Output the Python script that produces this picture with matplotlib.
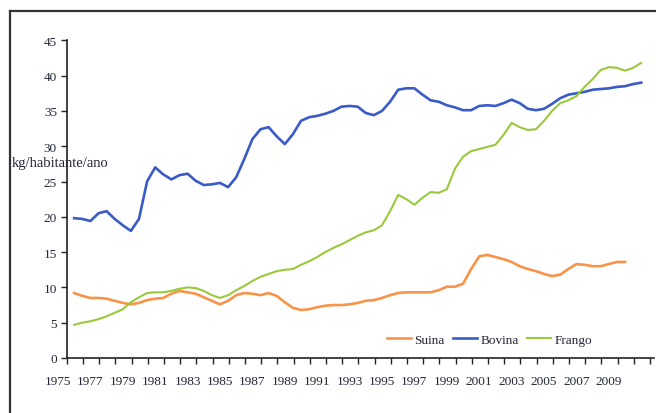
import matplotlib.pyplot as plt
import matplotlib.transforms as mtransforms
import numpy as np

# half-year readings
years_bov = np.arange(1976, 2011.01, 0.5)
bovina = [19.8, 19.7, 19.4, 20.5, 20.8, 19.7, 18.8, 18.0, 19.7, 25.0,
          27.0, 26.0, 25.3, 25.9, 26.1, 25.1, 24.5, 24.6, 24.8, 24.2,
          25.6, 28.2, 31.0, 32.4, 32.7, 31.4, 30.3, 31.7, 33.6, 34.1,
          34.3, 34.6, 35.0, 35.6, 35.7, 35.6, 34.7, 34.4, 35.0, 36.3,
          38.0, 38.2, 38.2, 37.3, 36.5, 36.3, 35.8, 35.5, 35.1, 35.1,
          35.7, 35.8, 35.7, 36.1, 36.6, 36.1, 35.3, 35.1, 35.3, 36.0,
          36.8, 37.3, 37.5, 37.7, 38.0, 38.1, 38.2, 38.4, 38.5, 38.8,
          39.0]

years_fra = np.arange(1976, 2011.01, 0.5)
frango = [4.7, 5.0, 5.2, 5.5, 5.9, 6.4, 6.9, 7.9, 8.6, 9.2,
          9.3, 9.3, 9.5, 9.8, 10.0, 9.9, 9.5, 8.9, 8.5, 8.9,
          9.6, 10.2, 10.9, 11.5, 11.9, 12.3, 12.5, 12.6, 13.2, 13.7,
          14.3, 15.0, 15.6, 16.1, 16.7, 17.3, 17.8, 18.1, 18.8, 20.8,
          23.1, 22.5, 21.7, 22.7, 23.5, 23.4, 23.9, 26.8, 28.5, 29.3,
          29.6, 29.9, 30.2, 31.6, 33.3, 32.7, 32.3, 32.4, 33.6, 35.0,
          36.1, 36.5, 37.1, 38.4, 39.5, 40.8, 41.2, 41.1, 40.7, 41.1,
          41.8]

years_sui = np.arange(1976, 2010.01, 0.5)
suina = [9.2, 8.8, 8.5, 8.5, 8.4, 8.1, 7.8, 7.6, 7.8, 8.2,
         8.4, 8.5, 9.1, 9.5, 9.3, 9.1, 8.6, 8.1, 7.6, 8.1,
         8.9, 9.2, 9.1, 8.9, 9.2, 8.8, 7.9, 7.1, 6.8, 6.9,
         7.2, 7.4, 7.5, 7.5, 7.6, 7.8, 8.1, 8.2, 8.5, 8.9,
         9.2, 9.3, 9.3, 9.3, 9.3, 9.6, 10.1, 10.1, 10.5, 12.6,
         14.4, 14.6, 14.3, 14.0, 13.6, 13.0, 12.6, 12.3, 11.9, 11.6,
         11.8, 12.6, 13.3, 13.2, 13.0, 13.0, 13.3, 13.6, 13.6]

year_labels = list(range(1975, 2010, 2))
y_ticks = [0, 5, 10, 15, 20, 25, 30, 35, 40, 45]

txt_color = '#222638'
serif = ['Liberation Serif', 'DejaVu Serif']
fs = 9.5

fig = plt.figure(figsize=(6.56, 4.14), dpi=100)
ax = fig.add_axes([0.1017, 0.1329, 0.8953, 0.7673])

ax.plot(years_sui, suina, color='#F7944A', lw=1.9, label='Suina')
ax.plot(years_bov, bovina, color='#3A5BC7', lw=1.9, label='Bovina')
ax.plot(years_fra, frango, color='#99C93C', lw=1.5, label='Frango')

ax.set_xlim(1975.54, 2011.79)
ax.set_ylim(0, 45)

# tick marks sit between the year labels
ax.set_xticks(np.arange(1975.54, 2011.6, 1.0))
ax.set_xticklabels([])
ax.tick_params(axis='x', direction='out', length=4, width=1, color='#222')
trans = mtransforms.blended_transform_factory(ax.transData, ax.transAxes)
for yr in year_labels:
    ax.text(yr, -0.055, str(yr), transform=trans, ha='center', va='top',
            fontsize=fs, family=serif, color=txt_color, clip_on=False)

ax.set_yticks(y_ticks)
ax.set_yticklabels([str(v) for v in y_ticks], family=serif, fontsize=fs,
                   color=txt_color)
ax.tick_params(axis='y', direction='out', length=4, width=1, color='#222', pad=3)

for s in ['top', 'right']:
    ax.spines[s].set_visible(False)
for s in ['left', 'bottom']:
    ax.spines[s].set_color('#222')
    ax.spines[s].set_linewidth(1.2)

fig.text(0.018, 0.605, 'kg/habitante/ano', family=serif, fontsize=10.5,
         color=txt_color, ha='left', va='center')

leg = ax.legend(loc='lower right', bbox_to_anchor=(0.915, 0.0), ncol=3,
                frameon=False, prop={'family': serif, 'size': fs},
                handlelength=1.8, columnspacing=0.6, handletextpad=0.3)
for t in leg.get_texts():
    t.set_color(txt_color)

# outer frame (left and top edges only are visible)
fig.add_artist(plt.Line2D([0.0155, 0.0155], [0.0, 0.971], color='#333',
                          lw=1.6, transform=fig.transFigure))
fig.add_artist(plt.Line2D([0.0155, 1.0], [0.971, 0.971], color='#333',
                          lw=1.6, transform=fig.transFigure))

fig.savefig('out.png', dpi=100)
